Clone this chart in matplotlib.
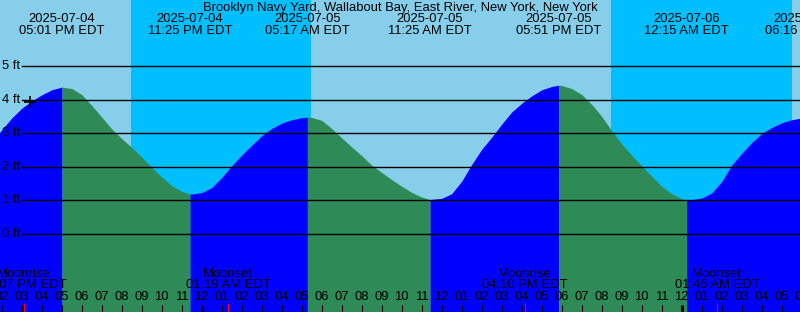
import matplotlib
matplotlib.use("Agg")
import matplotlib.pyplot as plt
import pandas as pd

station = "Brooklyn Navy Yard, Wallabout Bay, East River, New York, New York"

# tide readings (ft), half hourly
tide_times = [
    "2025-07-04 13:30", "2025-07-04 14:00", "2025-07-04 14:30", "2025-07-04 15:00",
    "2025-07-04 15:30", "2025-07-04 16:00", "2025-07-04 16:30", "2025-07-04 17:00",
    "2025-07-04 17:30", "2025-07-04 18:00", "2025-07-04 18:30", "2025-07-04 19:00",
    "2025-07-04 19:30", "2025-07-04 20:00", "2025-07-04 20:30", "2025-07-04 21:00",
    "2025-07-04 21:30", "2025-07-04 22:00", "2025-07-04 22:30", "2025-07-04 23:00",
    "2025-07-04 23:30",
    "2025-07-05 00:00", "2025-07-05 00:30", "2025-07-05 01:00", "2025-07-05 01:30",
    "2025-07-05 02:00", "2025-07-05 02:30", "2025-07-05 03:00", "2025-07-05 03:30",
    "2025-07-05 04:00", "2025-07-05 04:30", "2025-07-05 05:00", "2025-07-05 05:30",
    "2025-07-05 06:00", "2025-07-05 06:30", "2025-07-05 07:00", "2025-07-05 07:30",
    "2025-07-05 08:00", "2025-07-05 08:30", "2025-07-05 09:00", "2025-07-05 09:30",
    "2025-07-05 10:00", "2025-07-05 10:30", "2025-07-05 11:00", "2025-07-05 11:30",
    "2025-07-05 12:00", "2025-07-05 12:30", "2025-07-05 13:00", "2025-07-05 13:30",
    "2025-07-05 14:00", "2025-07-05 14:30", "2025-07-05 15:00", "2025-07-05 15:30",
    "2025-07-05 16:00", "2025-07-05 16:30", "2025-07-05 17:00", "2025-07-05 17:30",
    "2025-07-05 18:00", "2025-07-05 18:30", "2025-07-05 19:00", "2025-07-05 19:30",
    "2025-07-05 20:00", "2025-07-05 20:30", "2025-07-05 21:00", "2025-07-05 21:30",
    "2025-07-05 22:00", "2025-07-05 22:30", "2025-07-05 23:00", "2025-07-05 23:30",
    "2025-07-06 00:00", "2025-07-06 00:30", "2025-07-06 01:00", "2025-07-06 01:30",
    "2025-07-06 02:00", "2025-07-06 02:30", "2025-07-06 03:00", "2025-07-06 03:30",
    "2025-07-06 04:00", "2025-07-06 04:30", "2025-07-06 05:00", "2025-07-06 05:30",
    "2025-07-06 06:00",
]
tide_ft = [
    2.72, 3.10, 3.45, 3.74, 3.96, 4.14, 4.29, 4.37,
    4.33, 4.15, 3.83, 3.48, 3.13, 2.84, 2.58, 2.29,
    1.98, 1.70, 1.44, 1.27, 1.19,
    1.23, 1.38, 1.68, 2.03, 2.35, 2.64, 2.92, 3.14,
    3.30, 3.40, 3.46, 3.47, 3.38, 3.14, 2.86, 2.59,
    2.33, 2.05, 1.83, 1.62, 1.42, 1.24, 1.10, 1.03,
    1.06, 1.20, 1.57, 2.07, 2.52, 2.88, 3.27, 3.63,
    3.89, 4.11, 4.29, 4.39, 4.42, 4.33, 4.15, 3.86,
    3.50, 3.07, 2.68, 2.34, 2.03, 1.72, 1.42, 1.20,
    1.05, 1.02, 1.07, 1.22, 1.56, 2.05, 2.40, 2.72,
    2.99, 3.17, 3.31, 3.40, 3.45,
]

# high / low tides
extreme_times = ["2025-07-04 17:01", "2025-07-04 23:25", "2025-07-05 05:17",
                 "2025-07-05 11:25", "2025-07-05 17:51", "2025-07-06 00:15",
                 "2025-07-06 06:16"]
extreme_ft = [4.37, 1.19, 3.48, 1.02, 4.43, 1.01, 3.47]

night_start = ["2025-07-04 20:28", "2025-07-05 20:28"]
night_end = ["2025-07-05 05:28", "2025-07-06 05:31"]

moon_events = ["Moonrise", "Moonset", "Moonrise", "Moonset"]
moon_times = ["2025-07-04 15:07", "2025-07-05 01:19", "2025-07-05 16:10", "2025-07-06 01:46"]

now_time = "2025-07-04 15:25"
now_ft = 3.93

ft_levels = [0, 1, 2, 3, 4, 5]

W, H = 800, 312
DAY = "#87CEEB"
NIGHT = "#00BFFF"
RISE = "#0000FF"
FALL = "#2E8B57"
FS = 9.4

plt.rcParams["font.family"] = ["Liberation Sans", "DejaVu Sans"]

fig = plt.figure(figsize=(W / 100, H / 100), dpi=100)
fig.patch.set_facecolor(DAY)
ax = fig.add_axes([0, 0, 1, 1])
ax.axis("off")

t0 = pd.Timestamp("2025-07-04 13:54:54")
t1 = t0 + pd.Timedelta(hours=40)
ybot, ytop = -78 / 33.6, 234 / 33.6
ax.set_xlim(t0, t1)
ax.set_ylim(ybot, ytop)


def fy(px):
    # pixel row from top -> axes fraction
    return 1 - px / H


xt = ax.get_xaxis_transform()

# day / night background
ax.axvspan(t0, t1, color=DAY, lw=0, zorder=0)
for s, e in zip(night_start, night_end):
    ax.axvspan(pd.Timestamp(s), pd.Timestamp(e), color=NIGHT, lw=0, zorder=0)

# tide curve, blue when rising, green when falling
df = pd.DataFrame({"t": pd.to_datetime(tide_times + extreme_times),
                   "ft": tide_ft + extreme_ft})
df = df.sort_values("t").drop_duplicates("t").reset_index(drop=True)
ext = pd.to_datetime(extreme_times)
bounds = [df.t.iloc[0]] + list(ext) + [df.t.iloc[-1]]
for a, b in zip(bounds[:-1], bounds[1:]):
    seg = df[(df.t >= a) & (df.t <= b)]
    if len(seg) < 2:
        continue
    col = RISE if seg.ft.iloc[-1] > seg.ft.iloc[0] else FALL
    ax.fill_between(seg.t, seg.ft, ybot, color=col, lw=0, zorder=1)

# gridlines and labels
for v in ft_levels:
    ax.axhline(v, xmin=22 / W, xmax=1, color="black", lw=1.0, zorder=3)
    ax.text(2 / W, v, f"{v} ft", transform=ax.get_yaxis_transform(),
            ha="left", va="center", fontsize=FS, zorder=4)

# current position
ax.plot(pd.Timestamp(now_time), now_ft, marker="+", ms=8, mew=1.2,
        color="black", zorder=5)

# title
fig.text(0.5, fy(7.5), station, ha="center", va="center", fontsize=FS)

# high/low labels at top
for t in ext:
    ax.text(t, fy(19.5), t.strftime("%Y-%m-%d"), transform=xt,
            ha="center", va="center", fontsize=FS)
    ax.text(t, fy(31.5), t.strftime("%I:%M %p EDT"), transform=xt,
            ha="center", va="center", fontsize=FS)

# hour ticks along the bottom
hours = pd.date_range("2025-07-04 13:00", "2025-07-06 06:00", freq="h")
for h in hours:
    midnight = h.hour == 0
    ax.vlines(h, 0, 7 / H, transform=xt, color="black",
              lw=2.2 if midnight else 0.8, zorder=4)
    ax.text(h, fy(297.5), h.strftime("%I"), transform=xt,
            ha="center", va="center", fontsize=FS, zorder=4)

# moonrise / moonset
for name, mt in zip(moon_events, moon_times):
    mt = pd.Timestamp(mt)
    ax.vlines(mt, 0, 9 / H, transform=xt, color="red", lw=0.8, zorder=4)
    ax.text(mt, fy(274), name, transform=xt, ha="center", va="center",
            fontsize=FS, zorder=4)
    ax.text(mt, fy(285.5), mt.strftime("%I:%M %p EDT"), transform=xt,
            ha="center", va="center", fontsize=FS, zorder=4)

fig.savefig("out.png", dpi=100, facecolor=fig.get_facecolor())
